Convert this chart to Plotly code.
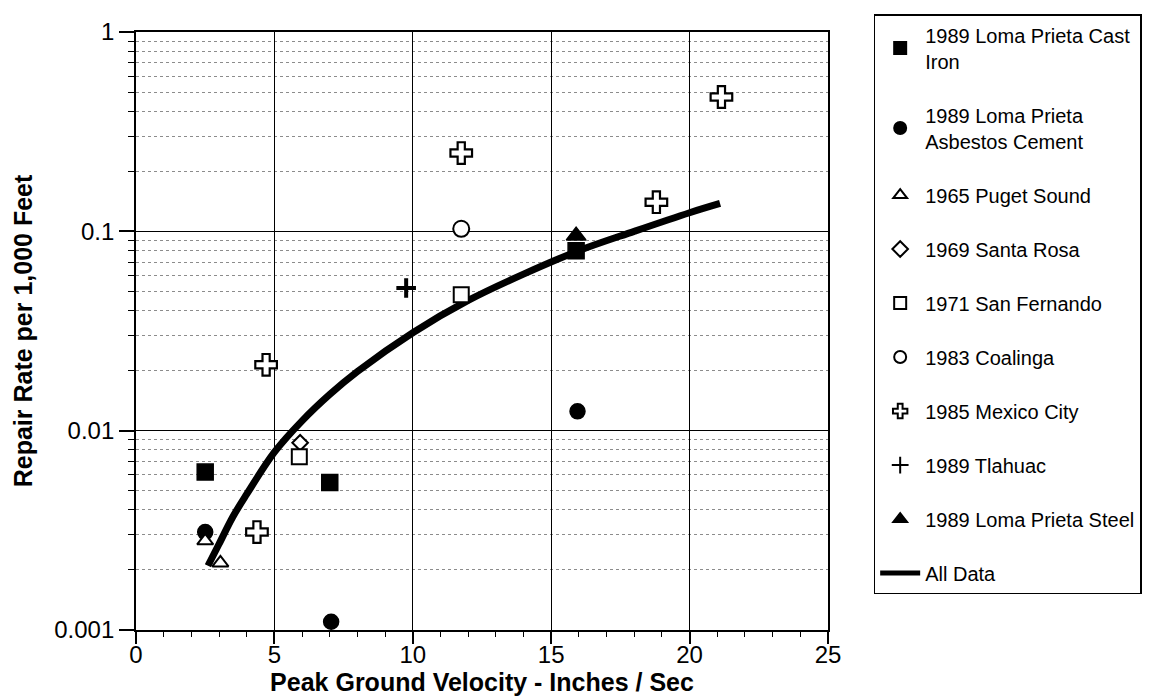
import plotly.graph_objects as go

# ---- data ----
cast_iron_x = [2.5, 7.0, 15.9]
cast_iron_y = [0.0062, 0.0055, 0.080]
asbestos_x = [2.5, 7.05, 15.95]
asbestos_y = [0.0031, 0.0011, 0.0125]
puget_x = [2.5, 3.05]
puget_y = [0.0028, 0.00217]
santa_rosa_x = [5.93]
santa_rosa_y = [0.0087]
san_fernando_x = [5.9, 11.75]
san_fernando_y = [0.0074, 0.048]
coalinga_x = [11.75]
coalinga_y = [0.103]
mexico_x = [4.7, 4.37, 11.75, 18.8, 21.15]
mexico_y = [0.0214, 0.0031, 0.247, 0.140, 0.472]
tlahuac_x = [9.76]
tlahuac_y = [0.052]
steel_x = [15.9]
steel_y = [0.095]
fit_x = [2.6, 3.0, 3.5, 4.0, 5.0, 6.0, 7.0, 8.0, 10.0, 12.0, 14.0, 16.0, 18.0, 20.0, 21.1]
fit_y = [0.0021, 0.0027, 0.0037, 0.0048, 0.0078, 0.0112, 0.0152, 0.0198, 0.031,
         0.045, 0.061, 0.080, 0.100, 0.124, 0.138]

x_ticks = [0, 5, 10, 15, 20, 25]
y_ticks = [0.001, 0.01, 0.1, 1]
y_ticklabels = ["0.001", "0.01", "0.1", "1"]
y_minor = [m * d for d in (0.001, 0.01, 0.1) for m in range(2, 10)]

FONT = "Liberation Sans, Arial, Helvetica, sans-serif"

fig = go.Figure()

fig.add_trace(go.Scatter(x=fit_x, y=fit_y, mode="lines", name="All Data",
                         legendgroup="all", legendrank=10,
                         line=dict(color="black", width=7, shape="spline")))
traces = [
    ("1989 Loma Prieta Cast<br>Iron", cast_iron_x, cast_iron_y, "square", 16, "black", "black", 1.5),
    ("1989 Loma Prieta<br>Asbestos Cement", asbestos_x, asbestos_y, "circle", 15, "black", "black", 1.5),
    ("1965 Puget Sound", puget_x, puget_y, "triangle-up", 14, "white", "black", 2),
    ("1969 Santa Rosa", santa_rosa_x, santa_rosa_y, "diamond", 12, "white", "black", 2),
    ("1971 San Fernando", san_fernando_x, san_fernando_y, "square", 15, "white", "black", 2),
    ("1983 Coalinga", coalinga_x, coalinga_y, "circle", 16, "white", "black", 2),
    ("1985 Mexico City", mexico_x, mexico_y, "cross", 18, "white", "black", 2.2),
    ("1989 Tlahuac", tlahuac_x, tlahuac_y, "cross-thin-open", 14, "black", "black", 4),
    ("1989 Loma Prieta Steel", steel_x, steel_y, "triangle-up", 17, "black", "black", 1.5),
]
for i, (n, xs, ys, sym, sz, fill, lc, lw) in enumerate(traces):
    fig.add_trace(go.Scatter(
        x=xs, y=ys, mode="markers", name=n, legendgroup=n, legendrank=i + 1,
        marker=dict(symbol=sym, size=sz, color=fill, line=dict(color=lc, width=lw)),
    ))

fig.update_layout(
    width=1162, height=699,
    paper_bgcolor="white", plot_bgcolor="white",
    margin=dict(l=128, r=342, t=24, b=77, autoexpand=False),
    font=dict(family=FONT, color="black", size=18),
    showlegend=True,
    legend=dict(
        x=1.066, y=1.03, xanchor="left", yanchor="top",
        bordercolor="black", borderwidth=1.5,
        font=dict(size=20, family=FONT),
        tracegroupgap=25, itemsizing="constant", itemwidth=40,
        traceorder="grouped", valign="middle", maxheight=660,
    ),
)
fig.update_xaxes(
    range=[0, 25], tickvals=x_ticks, ticks="outside", ticklen=12, tickwidth=1.5,
    tickcolor="black", showline=True, linecolor="black", linewidth=1.8, mirror=True,
    showgrid=True, gridcolor="black", gridwidth=1.3, zeroline=False, automargin=False,
    tickfont=dict(size=24),
    minor=dict(dtick=1, ticks="outside", ticklen=5, tickwidth=1.2, tickcolor="black",
               showgrid=False),
    title=dict(text="<b>Peak Ground Velocity - Inches / Sec</b>", font=dict(size=25), standoff=2),
)
try:
    fig.update_xaxes(ticklabelstandoff=-10)
except Exception:
    fig.update_xaxes(ticklen=4)
fig.update_yaxes(
    type="log", range=[-3, 0], tickvals=y_ticks, ticktext=y_ticklabels,
    ticks="outside", ticklen=15, tickwidth=1.5, tickcolor="black",
    showline=True, linecolor="black", linewidth=1.8, mirror=True,
    showgrid=True, gridcolor="black", gridwidth=1.3, zeroline=False, automargin=False,
    tickfont=dict(size=24),
    minor=dict(tickvals=y_minor, ticks="outside", ticklen=6, tickwidth=1.2, tickcolor="black",
               showgrid=True, gridcolor="#8c8c8c", gridwidth=1, griddash="dot"),
    title=dict(text="<b>Repair Rate per 1,000 Feet</b>", font=dict(size=25), standoff=14),
)

fig.write_html("out.html")
